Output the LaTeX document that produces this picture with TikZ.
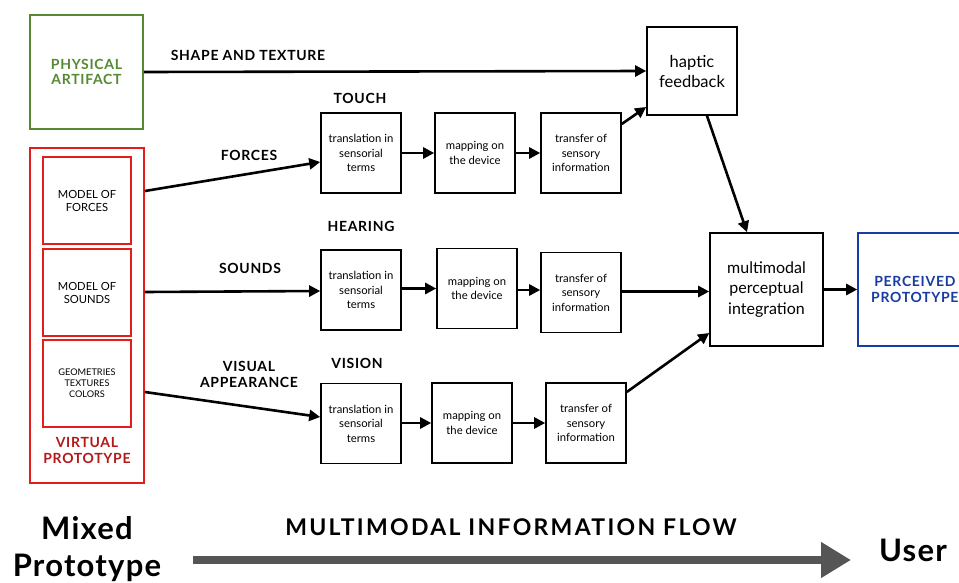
\documentclass[tikz,border=0pt]{standalone}
\usepackage{fontspec}
\setmainfont{Lato}
\newfontfamily\capsfont[LetterSpace=5]{Lato}
\newfontfamily\bigfont[LetterSpace=4]{Lato}
\newfontfamily\flowfont[LetterSpace=10]{Lato}
\usetikzlibrary{arrows.meta,calc}
\definecolor{pgreen}{RGB}{84,138,50}
\definecolor{vred}{RGB}{225,30,25}
\definecolor{vdark}{RGB}{178,25,25}
\definecolor{pblue}{RGB}{25,60,160}
\definecolor{flowgray}{RGB}{85,85,85}
\tikzset{
  x=1pt,y=-1pt,
  sbox/.style={draw=black,line width=1.6pt,minimum width=80pt,minimum height=80pt,inner sep=0pt,align=center,font=\fontsize{11.3}{14.5}\selectfont},
  redin/.style={draw=vred,line width=1.6pt,minimum width=88pt,minimum height=87pt,inner sep=0pt,align=center,font=\fontsize{11.2}{13}\selectfont},
  lab/.style={font=\capsfont\bfseries\fontsize{14}{15.5}\selectfont,align=center,inner sep=0pt},
  arr/.style={line width=2.6pt,-{Triangle[length=11pt,width=11pt]}},
}
\begin{document}
\begin{tikzpicture}
\clip (0,0) rectangle (959,583);
\fill[white] (0,0) rectangle (959,583);
% left boxes
\node[draw=pgreen,line width=1.8pt,minimum width=113pt,minimum height=114pt,inner sep=0pt,align=center,text=pgreen,font=\capsfont\bfseries\fontsize{14}{15.5}\selectfont] (pa) at (86.5,72) {PHYSICAL\\ARTIFACT};
\node[draw=vred,line width=1.8pt,minimum width=114pt,minimum height=335pt,inner sep=0pt] (vp) at (87,315.5) {};
\node[redin] (mf) at (87,200.5) {MODEL OF\\FORCES};
\node[redin] (ms) at (87,292.5) {MODEL OF\\SOUNDS};
\node[redin,font=\fontsize{9.2}{11}\selectfont] (mg) at (87,383.5) {GEOMETRIES\\TEXTURES\\COLORS};
\node[lab,text=vdark] (vpl) at (87,450.5) {VIRTUAL\\PROTOTYPE};
% touch row
\node[sbox] (t1) at (361,153) {translation in\\sensorial\\terms};
\node[sbox] (t2) at (475,153) {mapping on\\the device};
\node[sbox] (t3) at (581,153) {transfer of\\sensory\\information};
% hearing row
\node[sbox] (h1) at (361,290) {translation in\\sensorial\\terms};
\node[sbox] (h2) at (477,288.5) {mapping on\\the device};
\node[sbox] (h3) at (581,292.5) {transfer of\\sensory\\information};
% vision row
\node[sbox] (v1) at (361,423.5) {translation in\\sensorial\\terms};
\node[sbox] (v2) at (472,423) {mapping on\\the device};
\node[sbox] (v3) at (586,423) {transfer of\\sensory\\information};
% right boxes
\node[draw=black,line width=1.6pt,minimum width=90pt,minimum height=88pt,inner sep=0pt,align=center,font=\fontsize{16.5}{20}\selectfont] (hf) at (692,71) {haptic\\feedback};
\node[draw=black,line width=1.6pt,minimum width=113pt,minimum height=113pt,inner sep=0pt,align=center,font=\fontsize{16}{20.5}\selectfont] (mm) at (766.5,289.5) {multimodal\\perceptual\\integration};
\node[draw=pblue,line width=1.6pt,minimum width=116pt,minimum height=113pt,inner sep=0pt] (pp) at (916,289.5) {};
\node[lab,text=pblue,anchor=west] (ppl) at (871,289.5) {PERCEIVED\\PROTOTYPE};
% labels
\node[lab] (l1) at (248,55) {SHAPE AND TEXTURE};
\node[lab] (l2) at (249,155) {FORCES};
\node[lab] (l3) at (250,268) {SOUNDS};
\node[lab] (l4) at (249,374.5) {VISUAL\\APPEARANCE};
\node[lab] (l5) at (360,98) {TOUCH};
\node[lab] (l6) at (361,226) {HEARING};
\node[lab] (l7) at (357,363) {VISION};
% connectors
\draw[arr] (pa.east) -- (hf.west);
\draw[arr] (vp.east |- 0,191) -- (t1.west |- 0,162);
\draw[arr] (vp.east |- 0,292) -- (h1.west |- 0,291);
\draw[arr] (vp.east |- 0,392) -- (v1.west |- 0,417);
\draw[arr] (t1) -- (t2);
\draw[arr] (t2) -- (t3);
\draw[arr] (h1.east |- h2.center) -- (h2.west);
\draw[arr] (h2.east |- 0,290) -- (h3.west |- 0,290);
\draw[arr] (v1.east |- v2.center) -- (v2.west);
\draw[arr] (v2) -- (v3);
\draw[arr] (t3.east |- 0,124) -- (hf.west |- 0,107);
\draw[arr] (hf.south -| 707,0) -- (mm.north -| 747,0);
\draw[arr] (h3.east |- 0,291.5) -- (mm.west |- 0,291.5);
\draw[arr] (v3.east |- 0,392) -- (mm.west |- 0,333);
\draw[arr] (mm.east) -- (pp.west);
% bottom
\node[align=center,font=\bigfont\bfseries\fontsize{31}{37}\selectfont,inner sep=0pt] (mix) at (87,549.5) {Mixed\\Prototype};
\node[font=\bigfont\bfseries\fontsize{31}{34}\selectfont,inner sep=0pt] (usr) at (913,550) {User};
\node[font=\flowfont\bfseries\fontsize{23}{25}\selectfont,inner sep=0pt] (flow) at (511,527) {MULTIMODAL INFORMATION FLOW};
\coordinate (fs) at (193,560);
\coordinate (fe) at (851,560);
\draw[flowgray,line width=8pt,-{Triangle[length=30pt,width=34pt]}] (fs) -- (fe);
\end{tikzpicture}
\end{document}
